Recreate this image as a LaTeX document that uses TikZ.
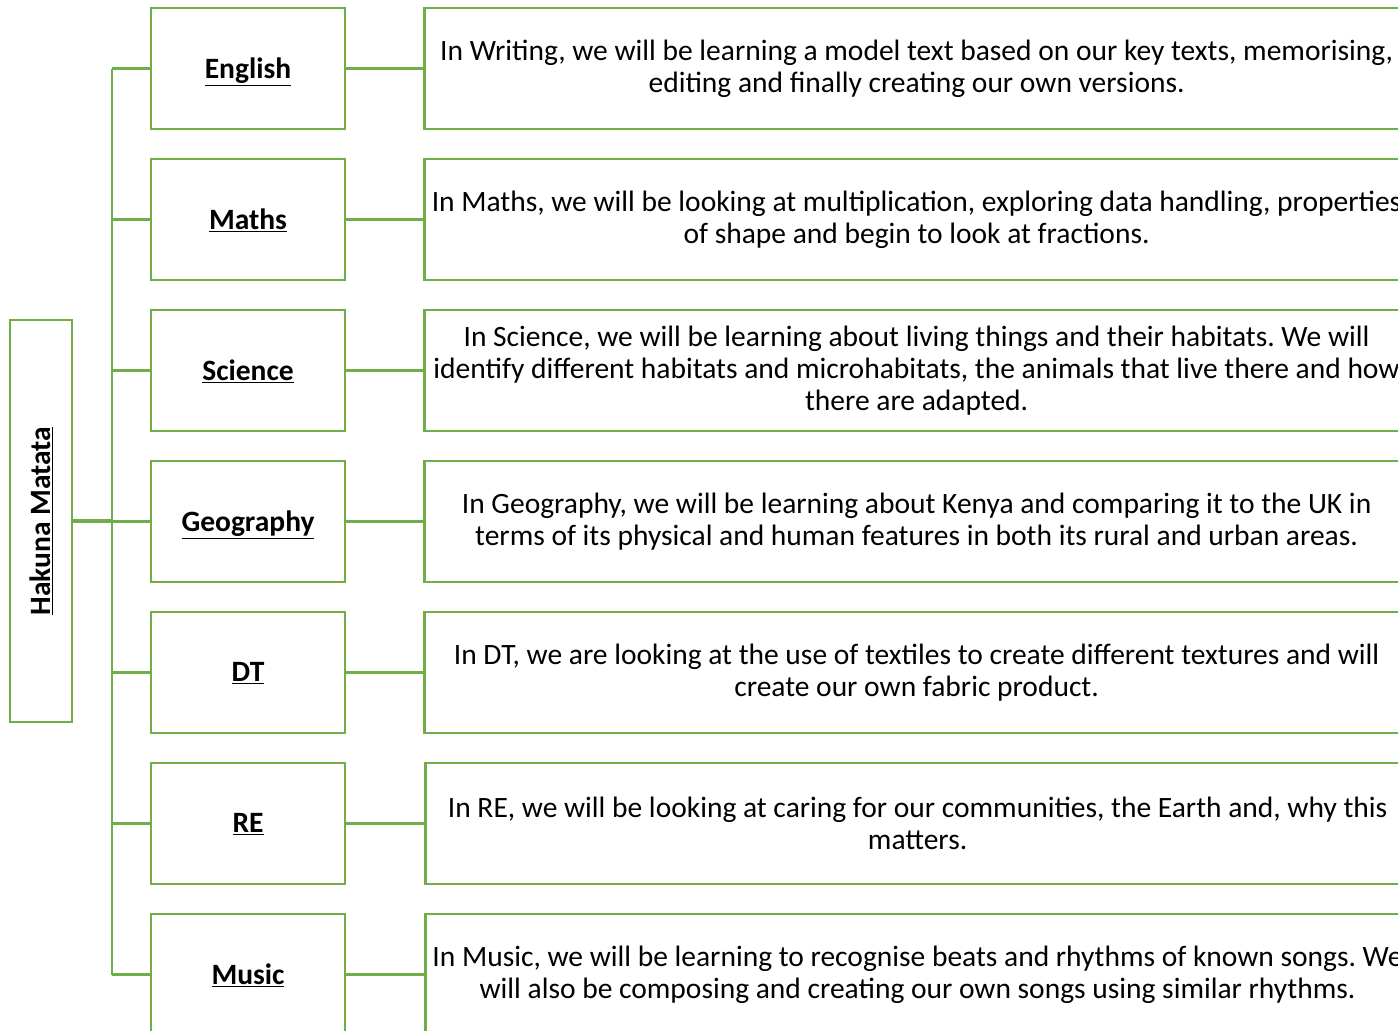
\documentclass[tikz,border=0pt]{standalone}
\usepackage{fontspec}
\setmainfont{Carlito}
\usepackage{xcolor}
\definecolor{colorg}{RGB}{112,173,71}
\usepackage{tikz}
\usetikzlibrary{positioning}
\tikzstyle{rootbox} = [draw=colorg, line width=2.6pt, minimum width=402pt, minimum height=62pt, inner sep=0pt, font=\fontsize{29.5}{32}\selectfont\bfseries]
\tikzstyle{subjbox} = [draw=colorg, line width=2.6pt, minimum width=194pt, minimum height=121pt, text depth=1pt, font=\fontsize{29.5}{32}\selectfont\bfseries]
\tikzstyle{descbox} = [draw=colorg, line width=2.6pt, minimum width=984pt, minimum height=121pt, inner sep=2pt, align=center, font=\fontsize{29.5}{32}\selectfont]
\tikzstyle{link} = [draw=colorg, line width=2.6pt]

\begin{document}
\frenchspacing
\begin{tikzpicture}[x=1pt,y=-1pt]
  \useasboundingbox (0,0) rectangle (1398,1031);
  \clip (0,0) rectangle (1398,1031);

  \node[rootbox, rotate=90] (root) at (41,521) {\underline{Hakuna Matata}};
  \coordinate (trunk) at (112,521);

  \foreach \n/\s [count=\i] in {eng/English, mat/Maths, sci/Science, geo/Geography, dt/DT, re/RE, mus/Music}
  \node[subjbox] (\n) at (248,{68.5+151*(\i-1)}) {\underline{\s}};

  \node[descbox, right=77pt of eng] (engtext) {In Writing, we will be learning a model text based on our key texts, memorising,\\ editing and finally creating our own versions.};
  \node[descbox, right=77pt of mat] (mattext) {In Maths, we will be looking at multiplication, exploring data handling, properties\\ of shape and begin to look at fractions.};
  \node[descbox, right=77pt of sci] (scitext) {In Science, we will be learning about living things and their habitats. We will\\ identify different habitats and microhabitats, the animals that live there and how\\ there are adapted.};
  \node[descbox, right=77pt of geo] (geotext) {In Geography, we will be learning about Kenya and comparing it to the UK in\\ terms of its physical and human features in both its rural and urban areas.};
  \node[descbox, right=77pt of dt] (dttext) {In DT, we are looking at the use of textiles to create different textures and will\\ create our own fabric product.};
  \node[descbox, right=78pt of re] (retext) {In RE, we will be looking at caring for our communities, the Earth and, why this\\ matters.};
  \node[descbox, right=78pt of mus] (mustext) {In Music, we will be learning to recognise beats and rhythms of known songs. We\\ will also be composing and creating our own songs using similar rhythms.};

  % tree
  \draw[link, line width=3.4pt] (root) -- (trunk);
  \draw[link] (trunk |- eng.west) -- (trunk |- mus.west);
  \foreach \n in {eng, mat, sci, geo, dt, re, mus}
  \draw[link] (\n.west) -- (trunk |- \n.west);

  \foreach \n in {eng, mat, sci, geo, dt, re, mus}
  \draw[link] (\n) -- (\n text);
\end{tikzpicture}
\end{document}
